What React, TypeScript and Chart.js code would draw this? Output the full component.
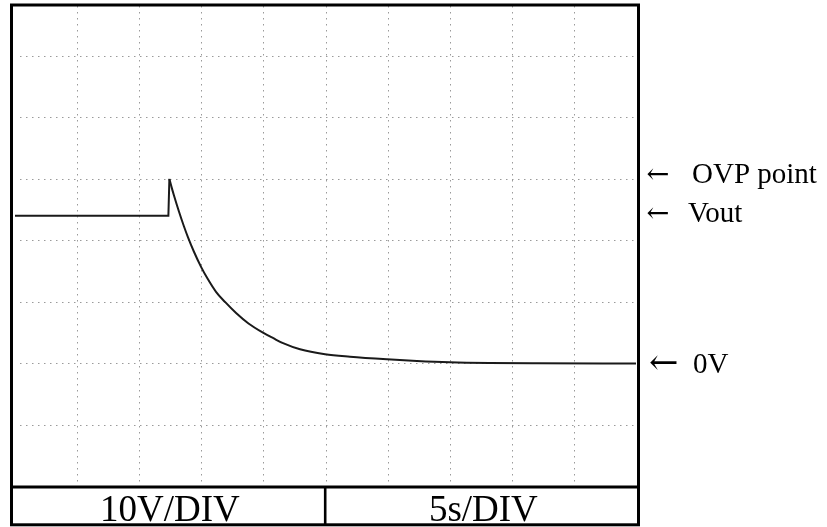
import React, { useEffect, useRef } from 'react';
import { Chart, registerables } from 'chart.js';

Chart.register(...registerables);

// Trace: time (s) and voltage (V)
const stepTime = [0, 12.35, 12.43];
const stepVolt = [24.0, 24.0, 30.0];
const decayTime = [12.43, 12.6, 12.8, 13.2, 13.6, 13.93, 14.4, 14.98, 15.5, 16.2, 16.91, 17.8, 18.8, 19.97, 20.8, 21.58, 22.95, 24.96, 26.97, 29.95, 32.36, 35.0, 38.2, 42, 50];
const decayVolt = [30.0, 28.7, 27.3, 24.7, 22.3, 20.5, 18.2, 15.7, 13.8, 11.6, 10.0, 8.2, 6.5, 5.0, 4.1, 3.3, 2.3, 1.5, 1.1, 0.68, 0.41, 0.2, 0.08, 0.03, 0];

// Axis ranges and grid divisions
const timeRange = [0, 50];
const voltRange = [-20, 58.1];
const timeGrid = [5, 10, 15, 20, 25, 30, 35, 40, 45];
const voltGrid = [-10, 0, 10, 20, 30, 40, 50];

// Scale labels and level markers
const scaleLabels = ['10V/DIV', '5s/DIV'];
const markerLabels = ['OVP point', 'Vout', '0V'];
const markerLevels = [30, 24, 0];

const SERIF = "'Liberation Serif', 'Times New Roman', serif";
const ARROW_FONT = "'DejaVu Serif', 'DejaVu Sans', serif";

const scopePlugin = {
  id: 'scope',
  beforeDatasetsDraw(chart: any) {
    const { ctx, chartArea: a, scales } = chart;
    const x = scales.x;
    const y = scales.y;
    ctx.save();
    ctx.strokeStyle = '#9a9a9a';
    ctx.lineWidth = 1;
    ctx.setLineDash([1.5, 4.5]);
    for (const t of timeGrid) {
      const px = Math.round(x.getPixelForValue(t)) + 0.5;
      ctx.beginPath();
      ctx.moveTo(px, a.top);
      ctx.lineTo(px, a.bottom);
      ctx.stroke();
    }
    for (const v of voltGrid) {
      const py = Math.round(y.getPixelForValue(v)) + 0.5;
      ctx.beginPath();
      ctx.moveTo(a.left + 5, py);
      ctx.lineTo(a.right, py);
      ctx.stroke();
    }
    ctx.restore();
  },
  afterDraw(chart: any) {
    const { ctx, chartArea: a, scales } = chart;
    const y = scales.y;
    ctx.save();
    ctx.setLineDash([]);
    ctx.strokeStyle = '#000';
    // outer frame
    const L = a.left - 3.5;
    const R = a.right + 2.5;
    const T = a.top - 1;
    const B = 524.8;
    ctx.lineWidth = 3;
    ctx.strokeRect(L, T, R - L, B - T);
    // table separator
    ctx.beginPath();
    ctx.moveTo(L, a.bottom + 0.5);
    ctx.lineTo(R, a.bottom + 0.5);
    ctx.stroke();
    const mid = (L + R) / 2 + 0.2;
    ctx.lineWidth = 2.6;
    ctx.beginPath();
    ctx.moveTo(mid, a.bottom + 0.5);
    ctx.lineTo(mid, B);
    ctx.stroke();

    // bottom labels
    ctx.fillStyle = '#000';
    ctx.font = `37px ${SERIF}`;
    ctx.textAlign = 'center';
    ctx.textBaseline = 'alphabetic';
    ctx.fillText(scaleLabels[0], (L + mid) / 2 + 1.5, 521);
    ctx.fillText(scaleLabels[1], (mid + R) / 2 + 1.5, 521);

    // level markers
    ctx.textAlign = 'left';
    const baseOffsets = [4.5, 6.4, 9.1];
    const arrowWidths = [21, 21, 27];
    const arrowX = [647.5, 647.5, 650];
    const textX = [692, 688, 693];
    markerLabels.forEach((label, i) => {
      const py = y.getPixelForValue(markerLevels[i]);
      const base = py + baseOffsets[i];
      const capCenter = base - 0.33 * 29;
      // arrow glyph, sized to its measured width
      ctx.font = `30px ${ARROW_FONT}`;
      const m = ctx.measureText('\u2190');
      const inkW = (m.actualBoundingBoxRight || 0) + (m.actualBoundingBoxLeft || 0) || m.width;
      const size = (30 * arrowWidths[i]) / inkW;
      ctx.font = `${size}px ${ARROW_FONT}`;
      const m2 = ctx.measureText('\u2190');
      const asc = m2.actualBoundingBoxAscent || 0;
      const desc = m2.actualBoundingBoxDescent || 0;
      const left = m2.actualBoundingBoxLeft || 0;
      ctx.fillText('\u2190', arrowX[i] + left, capCenter + (asc - desc) / 2);
      ctx.font = `29px ${SERIF}`;
      ctx.fillText(label, textX[i], base);
    });
    ctx.restore();
  },
};

export default function App() {
  const canvasRef = useRef<HTMLCanvasElement | null>(null);

  useEffect(() => {
    const canvas = canvasRef.current;
    if (!canvas) return;
    const lineStyle = {
      borderColor: '#1a1a1a',
      borderWidth: 2,
      pointRadius: 0,
      fill: false,
    };
    const chart = new Chart(canvas, {
      type: 'line',
      data: {
        datasets: [
          {
            ...lineStyle,
            tension: 0,
            data: stepTime.map((t, i) => ({ x: t, y: stepVolt[i] })),
          },
          {
            ...lineStyle,
            cubicInterpolationMode: 'monotone',
            data: decayTime.map((t, i) => ({ x: t, y: decayVolt[i] })),
          },
        ],
      },
      options: {
        responsive: false,
        animation: false,
        devicePixelRatio: 1,
        layout: { padding: { left: 15, top: 6, right: 191, bottom: 40.5 } },
        plugins: { legend: { display: false }, tooltip: { enabled: false } },
        scales: {
          x: { type: 'linear', min: timeRange[0], max: timeRange[1], display: false },
          y: { type: 'linear', min: voltRange[0], max: voltRange[1], display: false },
        },
      },
      plugins: [scopePlugin],
    } as any);
    return () => chart.destroy();
  }, []);

  return (
    <div style={{ position: 'fixed', left: 0, top: 0, width: 827, height: 527, background: '#fff' }}>
      <canvas ref={canvasRef} width={827} height={527} style={{ width: 827, height: 527, display: 'block' }} />
    </div>
  );
}
